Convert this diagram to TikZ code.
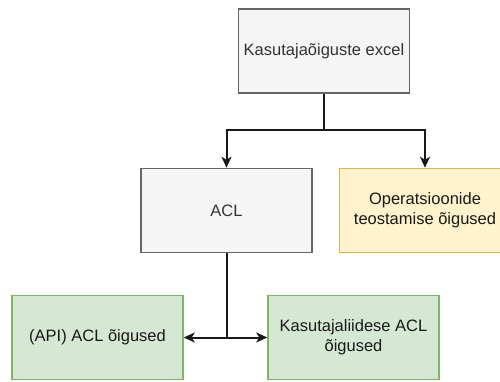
\documentclass[tikz,border=0pt]{standalone}
\usepackage{fontspec}
\setmainfont{Liberation Sans}
\usetikzlibrary{arrows.meta}
\newcommand{\unitsize}{1pt}

\definecolor{grayfill}{HTML}{F5F5F5}
\definecolor{graydraw}{HTML}{666666}
\definecolor{graytext}{HTML}{333333}
\definecolor{orangefill}{HTML}{FFF2CC}
\definecolor{orangedraw}{HTML}{D6B656}
\definecolor{greenfill}{HTML}{D5E8D4}
\definecolor{greendraw}{HTML}{82B366}

\begin{document}
\begin{tikzpicture}[x=\unitsize,y=-\unitsize]
\useasboundingbox (0,0) rectangle (500,381);
\tikzstyle{box}=[draw,
                 rectangle,
                 line width=1.5pt,
                 minimum width  = 171*\unitsize,
                 minimum height = 84*\unitsize,
                 inner sep=0pt,
                 align=center,
                 font=\fontsize{16.5}{20}\selectfont
                 ]
\tikzstyle{graybox}=[box,fill=grayfill,draw=graydraw,text=graytext]
\tikzstyle{orangebox}=[box,fill=orangefill,draw=orangedraw,text=black!90]
\tikzstyle{greenbox}=[box,fill=greenfill,draw=greendraw,text=black!90]
\tikzstyle{line}=[line width=2pt,black!90]
\tikzstyle{conn}=[line,-{Stealth[length=11pt,width=10pt,inset=3pt]}]

\node[graybox]   (excel) at (324,51)     {Kasutajaõiguste excel};
\node[graybox]   (acl)   at (226.5,210.5) {ACL};
\node[orangebox] (ops)   at (425,210.5)  {Operatsioonide\\teostamise õigused};
\node[greenbox]  (api)   at (97.5,337.5) {(API) ACL õigused};
\node[greenbox]  (ui)    at (353.5,337.5) {Kasutajaliidese ACL\\õigused};

\coordinate (split) at (324,130);
\draw[line] (excel.south) -- (split);
\draw[conn] (split) -| (acl.north);
\draw[conn] (split) -| (ops.north);

\coordinate (fork) at (acl.south |- api.east);
\draw[line] (acl.south) -- (fork);
\draw[conn] (fork) -- (api.east);
\draw[conn] (fork) -- (ui.west);
\end{tikzpicture}
\end{document}
